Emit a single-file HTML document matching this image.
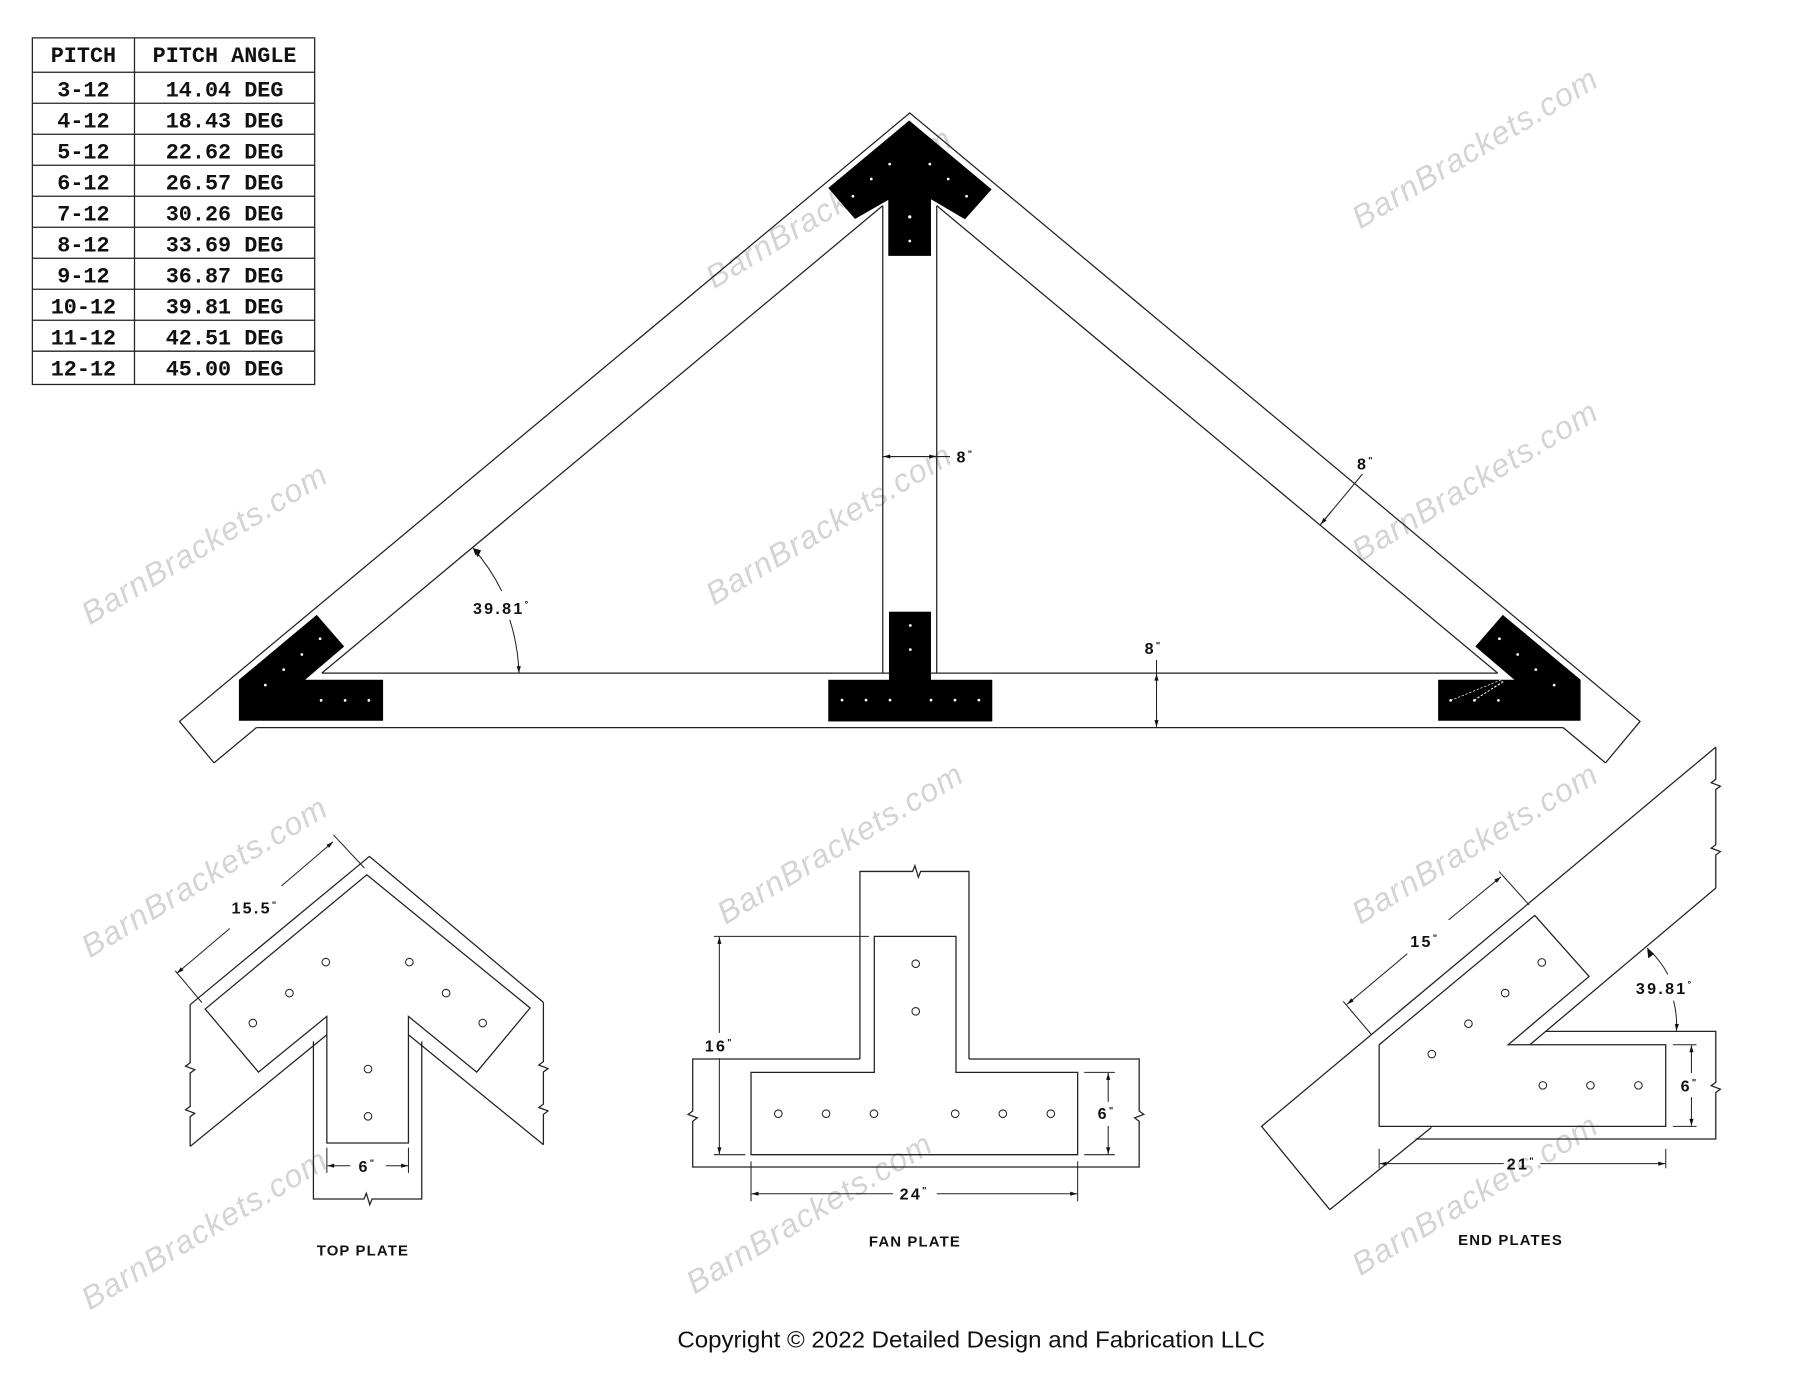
<!DOCTYPE html>
<html><head><meta charset="utf-8"><style>
html,body{margin:0;padding:0;background:#fff;}
svg{display:block;}
.l{stroke:#222;stroke-width:1.1;fill:none;}
.d{stroke:#222;stroke-width:0.9;fill:none;}
.t{font-family:"Liberation Mono",monospace;font-weight:bold;font-size:19px;fill:#111;}
.dim{font-family:"Liberation Sans",sans-serif;font-weight:bold;font-size:14px;fill:#111;letter-spacing:2px;}
.lab{font-family:"Liberation Sans",sans-serif;font-weight:bold;font-size:13px;fill:#111;}
.wm{font-family:"Liberation Sans",sans-serif;font-style:italic;font-size:28px;fill:#d4d4d4;letter-spacing:1px;}
.h{fill:#fff;}
.ho{fill:#fff;stroke:#222;stroke-width:0.9;}
</style></head><body>
<svg width="1800" height="1391" viewBox="0 0 1568 1212" xmlns="http://www.w3.org/2000/svg">
<defs>
<marker id="a" viewBox="0 0 10 10" refX="10" refY="5" markerWidth="9" markerHeight="6" orient="auto-start-reverse" markerUnits="userSpaceOnUse"><path d="M0,2 L10,5 L0,8 z" fill="#111"/></marker>
</defs>
<rect width="1568" height="1212" fill="#fff"/>

<!-- watermarks -->
<g class="wm">
<text transform="translate(78,545) rotate(-31)">BarnBrackets.com</text>
<text transform="translate(622,252) rotate(-31)">BarnBrackets.com</text>
<text transform="translate(1185,200) rotate(-31)">BarnBrackets.com</text>
<text transform="translate(622,528) rotate(-31)">BarnBrackets.com</text>
<text transform="translate(1185,490) rotate(-31)">BarnBrackets.com</text>
<text transform="translate(78,835) rotate(-31)">BarnBrackets.com</text>
<text transform="translate(632,806) rotate(-31)">BarnBrackets.com</text>
<text transform="translate(1185,806) rotate(-31)">BarnBrackets.com</text>
<text transform="translate(78,1142) rotate(-31)">BarnBrackets.com</text>
<text transform="translate(605,1128) rotate(-31)">BarnBrackets.com</text>
<text transform="translate(1185,1112) rotate(-31)">BarnBrackets.com</text>
</g>

<!-- table -->
<g class="l">
<rect x="28" y="33" width="246" height="302"/>
<line x1="117" y1="33" x2="117" y2="335"/>
<line x1="28" y1="63" x2="274" y2="63"/>
<line x1="28" y1="90" x2="274" y2="90"/><line x1="28" y1="117" x2="274" y2="117"/>
<line x1="28" y1="144" x2="274" y2="144"/><line x1="28" y1="171" x2="274" y2="171"/>
<line x1="28" y1="198" x2="274" y2="198"/><line x1="28" y1="225" x2="274" y2="225"/>
<line x1="28" y1="252" x2="274" y2="252"/><line x1="28" y1="279" x2="274" y2="279"/>
<line x1="28" y1="306" x2="274" y2="306"/>
</g>
<g class="t" text-anchor="middle">
<text x="72.5" y="54">PITCH</text><text x="195.5" y="54">PITCH ANGLE</text>
<text x="72.5" y="84">3-12</text><text x="195.5" y="84">14.04 DEG</text>
<text x="72.5" y="111">4-12</text><text x="195.5" y="111">18.43 DEG</text>
<text x="72.5" y="138">5-12</text><text x="195.5" y="138">22.62 DEG</text>
<text x="72.5" y="165">6-12</text><text x="195.5" y="165">26.57 DEG</text>
<text x="72.5" y="192">7-12</text><text x="195.5" y="192">30.26 DEG</text>
<text x="72.5" y="219">8-12</text><text x="195.5" y="219">33.69 DEG</text>
<text x="72.5" y="246">9-12</text><text x="195.5" y="246">36.87 DEG</text>
<text x="72.5" y="273">10-12</text><text x="195.5" y="273">39.81 DEG</text>
<text x="72.5" y="300">11-12</text><text x="195.5" y="300">42.51 DEG</text>
<text x="72.5" y="327">12-12</text><text x="195.5" y="327">45.00 DEG</text>
</g>

<!-- truss -->
<g class="l">
<polyline points="186.3,664.7 156.2,628.6 792.5,98.4 1428.8,628.6 1398.7,664.7"/>
<line x1="186.3" y1="664.7" x2="223.2" y2="634"/>
<line x1="1398.7" y1="664.7" x2="1361.8" y2="634"/>
<line x1="280.2" y1="586.5" x2="769" y2="179.2"/>
<line x1="1304.8" y1="586.5" x2="816" y2="179.2"/>
<line x1="280.2" y1="586.5" x2="1304.8" y2="586.5"/>
<line x1="223.2" y1="634" x2="1361.8" y2="634"/>
<line x1="769" y1="179.2" x2="769" y2="586.5"/>
<line x1="816" y1="179.2" x2="816" y2="586.5"/>
</g>
<!-- black plates -->
<g fill="#000">
<polygon points="792,105 863.8,165 840.6,191 811,173.6 811,223 773.8,223 773.8,174.2 744.8,190.8 721.5,163.8"/>
<polygon points="208,592.3 275.8,535.7 299.7,563.3 265.7,592.3 333.6,592.3 333.6,628 208,628"/>
<polygon points="1377,592.3 1309.2,535.7 1285.3,563.3 1319.3,592.3 1252.9,592.3 1252.9,628 1377,628"/>
<rect x="774.4" y="533" width="36.6" height="60"/>
<rect x="721.5" y="592.3" width="142.9" height="36.3"/>
</g>
<g class="h">
<circle cx="759" cy="156" r="1.2"/><circle cx="775" cy="143" r="1.2"/><circle cx="810" cy="143" r="1.2"/><circle cx="826" cy="156" r="1.2"/>
<circle cx="743" cy="171" r="1.2"/><circle cx="842" cy="171" r="1.2"/><circle cx="792.5" cy="189" r="1.4"/><circle cx="792.5" cy="210" r="1.2"/>
<circle cx="278.7" cy="556.6" r="1.2"/><circle cx="262.8" cy="570.3" r="1.2"/><circle cx="247" cy="583.5" r="1.2"/><circle cx="231" cy="597" r="1.2"/>
<circle cx="279.6" cy="610.3" r="1.2"/><circle cx="300.5" cy="610.3" r="1.2"/><circle cx="321.2" cy="610.3" r="1.2"/>
<circle cx="1306.3" cy="556.6" r="1.2"/><circle cx="1322.2" cy="570.3" r="1.2"/><circle cx="1338" cy="583.5" r="1.2"/><circle cx="1354" cy="597" r="1.2"/>
<circle cx="1305.4" cy="610.3" r="1.2"/><circle cx="1284.5" cy="610.3" r="1.2"/><circle cx="1263.8" cy="610.3" r="1.2"/>
<circle cx="733.5" cy="610" r="1.2"/><circle cx="754.4" cy="610" r="1.2"/><circle cx="775.3" cy="610" r="1.2"/>
<circle cx="811" cy="610" r="1.2"/><circle cx="831.9" cy="610" r="1.2"/><circle cx="852.7" cy="610" r="1.2"/>
<circle cx="793" cy="545" r="1.2"/><circle cx="793" cy="566" r="1.2"/>
</g>
<g stroke="#fff" stroke-width="0.6" stroke-dasharray="2,1.5" fill="none">
<line x1="1263.8" y1="610.3" x2="1308" y2="592.3"/><line x1="1284.5" y1="610.3" x2="1310" y2="593"/><line x1="1287" y1="608" x2="1311" y2="593.5"/>
</g>

<!-- truss dims -->
<g class="d">
<path d="M412,477.6 A172,172 0 0 1 437,515"/>
<path d="M444,540 A172,172 0 0 1 452,586.5" marker-end="url(#a)"/>
<line x1="437" y1="515" x2="412" y2="477.6" marker-end="url(#a)" stroke="none"/>
<line x1="769" y1="397.8" x2="827.5" y2="397.8"/>
<line x1="780" y1="397.8" x2="769.5" y2="397.8" marker-end="url(#a)"/>
<line x1="805" y1="397.8" x2="815.5" y2="397.8" marker-end="url(#a)"/>
<line x1="1007.5" y1="575" x2="1007.5" y2="634"/>
<line x1="1007.5" y1="600" x2="1007.5" y2="587" marker-end="url(#a)"/>
<line x1="1007.5" y1="620" x2="1007.5" y2="633.5" marker-end="url(#a)"/>
<line x1="1150" y1="457.5" x2="1187" y2="413"/>
<line x1="1160" y1="445.5" x2="1150.5" y2="457" marker-end="url(#a)"/>
</g>
<path d="M412,477.6 l4,8 l3,-6 z" fill="#111"/>
<g class="dim" text-anchor="middle">
<text x="437" y="535">39.81<tspan font-size="8" dy="-6">°</tspan></text>
<text x="841" y="403">8<tspan font-size="8" dy="-5">"</tspan></text>
<text x="1005" y="570">8<tspan font-size="8" dy="-5">"</tspan></text>
<text x="1190" y="409">8<tspan font-size="8" dy="-5">"</tspan></text>
</g>

<!-- TOP PLATE detail -->
<g class="l">
<polyline points="165.5,875.4 321.7,746.2 473.3,873.4"/>
<path d="M165.5,875.4 V926 l-4,3 l8,3 l-4,3 V964 l-4,3 l8,3 l-4,3 V998.9"/>
<path d="M473.3,873.4 V925 l-4,3 l8,3 l-4,3 V962 l-4,3 l8,3 l-4,3 V997.4"/>
<line x1="165.5" y1="998.9" x2="284.6" y2="901.6"/>
<line x1="355.7" y1="901.6" x2="473.3" y2="997.4"/>
<path d="M272.9,907.4 V1044.7 H317 l2,-5 l3,10 l2,-5 H367.3 V907.4"/>
<polygon points="319.4,762.2 461.7,878.3 415.2,934.1 355.7,885.6 355.7,995.9 284.6,995.9 284.6,885.6 225,934.1 178.6,879.2"/>
</g>
<g class="ho">
<circle cx="283.7" cy="838.3" r="3.3"/><circle cx="356.5" cy="838.3" r="3.3"/>
<circle cx="252" cy="865.3" r="3.3"/><circle cx="388.5" cy="865.3" r="3.3"/>
<circle cx="220.1" cy="891.4" r="3.3"/><circle cx="420.4" cy="891.4" r="3.3"/>
<circle cx="320.5" cy="931.5" r="3.3"/><circle cx="320.5" cy="972.7" r="3.3"/>
</g>
<g class="d">
<line x1="152.5" y1="845.9" x2="175.7" y2="873.5"/>
<line x1="290.3" y1="727.4" x2="317.4" y2="756.4"/>
<line x1="200" y1="809" x2="154" y2="848" marker-end="url(#a)"/>
<line x1="245" y1="772" x2="290" y2="733.5" marker-end="url(#a)"/>
<line x1="284.6" y1="1000" x2="284.6" y2="1022"/>
<line x1="355.7" y1="1000" x2="355.7" y2="1022"/>
<line x1="305" y1="1015.7" x2="285" y2="1015.7" marker-end="url(#a)"/>
<line x1="336" y1="1015.7" x2="355.3" y2="1015.7" marker-end="url(#a)"/>
</g>
<g class="dim" text-anchor="middle">
<text x="222" y="796">15.5<tspan font-size="8" dy="-5">"</tspan></text>
<text x="320" y="1021">6<tspan font-size="8" dy="-5">"</tspan></text>
</g>
<text class="lab" x="316" y="1094" text-anchor="middle" letter-spacing="1">TOP PLATE</text>

<!-- FAN PLATE detail -->
<g class="l">
<path d="M749.1,922.7 V759.3 H795 l2,-5 l3,10 l2,-5 H844.1 V922.7"/>
<path d="M749.1,922.7 H603.4 V968 l-4,3 l8,3 l-4,3 V1016.8 H992.4 V977 l-4,-3 l8,-3 l-4,-3 V922.7 H844.1"/>
<polygon points="761.6,815.9 832.8,815.9 832.8,934.4 938.8,934.4 938.8,1006.1 654.2,1006.1 654.2,934.4 761.6,934.4"/>
</g>
<g class="ho">
<circle cx="797.7" cy="839.7" r="3.3"/><circle cx="797.7" cy="881.2" r="3.3"/>
<circle cx="678" cy="970.4" r="3.3"/><circle cx="719.6" cy="970.4" r="3.3"/><circle cx="761.3" cy="970.4" r="3.3"/>
<circle cx="832.1" cy="970.4" r="3.3"/><circle cx="873.6" cy="970.4" r="3.3"/><circle cx="915.4" cy="970.4" r="3.3"/>
</g>
<g class="d">
<line x1="621.8" y1="815.9" x2="756.9" y2="815.9"/>
<line x1="621.8" y1="1006.1" x2="649.2" y2="1006.1"/>
<line x1="626.6" y1="900" x2="626.6" y2="816.4" marker-end="url(#a)"/>
<line x1="626.6" y1="922" x2="626.6" y2="1005.6" marker-end="url(#a)"/>
<line x1="944.5" y1="934.4" x2="971.2" y2="934.4"/>
<line x1="944.5" y1="1006.1" x2="971.2" y2="1006.1"/>
<line x1="965.4" y1="960" x2="965.4" y2="934.9" marker-end="url(#a)"/>
<line x1="965.4" y1="981" x2="965.4" y2="1005.6" marker-end="url(#a)"/>
<line x1="654.2" y1="1011.9" x2="654.2" y2="1046.7"/>
<line x1="938.8" y1="1011.9" x2="938.8" y2="1046.7"/>
<line x1="778" y1="1040.1" x2="654.7" y2="1040.1" marker-end="url(#a)"/>
<line x1="816" y1="1040.1" x2="938.3" y2="1040.1" marker-end="url(#a)"/>
</g>
<g class="dim" text-anchor="middle">
<text x="626.6" y="916">16<tspan font-size="8" dy="-5">"</tspan></text>
<text x="964" y="975">6<tspan font-size="8" dy="-5">"</tspan></text>
<text x="796.4" y="1045">24<tspan font-size="8" dy="-5">"</tspan></text>
</g>
<text class="lab" x="797" y="1086" text-anchor="middle" letter-spacing="1">FAN PLATE</text>

<!-- END PLATES detail -->
<g class="l">
<polyline points="1158.5,1054 1099,981.4 1494.8,651"/>
<path d="M1494.8,651 V679 l-4,3 l8,3 l-4,3 V736 l-4,3 l8,3 l-4,3 V773.8"/>
<line x1="1494.8" y1="773.8" x2="1332.8" y2="910.3"/>
<line x1="1158.5" y1="1054" x2="1247.1" y2="982.3"/>
<path d="M1346.7,898.7 H1494.8 V943 l-4,3 l8,3 l-4,3 V992.4 H1233.2"/>
<polygon points="1201.5,910.3 1337.1,797.6 1384.4,850.8 1313.9,910.3 1451.2,910.3 1451.2,981.4 1201.5,981.4"/>
</g>
<g class="ho">
<circle cx="1343.2" cy="838.6" r="3.3"/><circle cx="1311.3" cy="865.3" r="3.3"/>
<circle cx="1279.3" cy="892" r="3.3"/><circle cx="1247.4" cy="918.4" r="3.3"/>
<circle cx="1344.1" cy="945.7" r="3.3"/><circle cx="1385.6" cy="945.7" r="3.3"/><circle cx="1427.4" cy="945.7" r="3.3"/>
</g>
<g class="d">
<line x1="1170.2" y1="872.5" x2="1194.9" y2="901.6"/>
<line x1="1306" y1="759.4" x2="1332.2" y2="788.5"/>
<line x1="1226" y1="831" x2="1173.6" y2="875" marker-end="url(#a)"/>
<line x1="1262" y1="801.5" x2="1307.6" y2="764" marker-end="url(#a)"/>
<line x1="1457.4" y1="910.3" x2="1478" y2="910.3"/>
<line x1="1457.4" y1="981.4" x2="1478" y2="981.4"/>
<line x1="1473.6" y1="935" x2="1473.6" y2="910.8" marker-end="url(#a)"/>
<line x1="1473.6" y1="956" x2="1473.6" y2="980.9" marker-end="url(#a)"/>
<line x1="1201.5" y1="1001" x2="1201.5" y2="1018"/>
<line x1="1451.2" y1="1001" x2="1451.2" y2="1018"/>
<line x1="1310" y1="1013.9" x2="1202" y2="1013.9" marker-end="url(#a)"/>
<line x1="1342" y1="1013.9" x2="1450.7" y2="1013.9" marker-end="url(#a)"/>
<path d="M1435,826.1 A80,80 0 0 1 1453,849"/>
<path d="M1458,872 A80,80 0 0 1 1460.5,898.2" marker-end="url(#a)"/>
</g>
<path d="M1435,826.1 l1,9 l5,-4 z" fill="#111"/>
<g class="dim" text-anchor="middle">
<text x="1241.3" y="825">15<tspan font-size="8" dy="-5">"</tspan></text>
<text x="1472" y="951">6<tspan font-size="8" dy="-5">"</tspan></text>
<text x="1325.4" y="1019">21<tspan font-size="8" dy="-5">"</tspan></text>
<text x="1450.3" y="866">39.81<tspan font-size="8" dy="-6">°</tspan></text>
</g>
<text class="lab" x="1316" y="1085" text-anchor="middle" letter-spacing="1">END PLATES</text>

<text x="590" y="1174" font-family="Liberation Sans, sans-serif" font-size="20" fill="#111" textLength="512" lengthAdjust="spacingAndGlyphs">Copyright © 2022 Detailed Design and Fabrication LLC</text>
</svg>
</body></html>
